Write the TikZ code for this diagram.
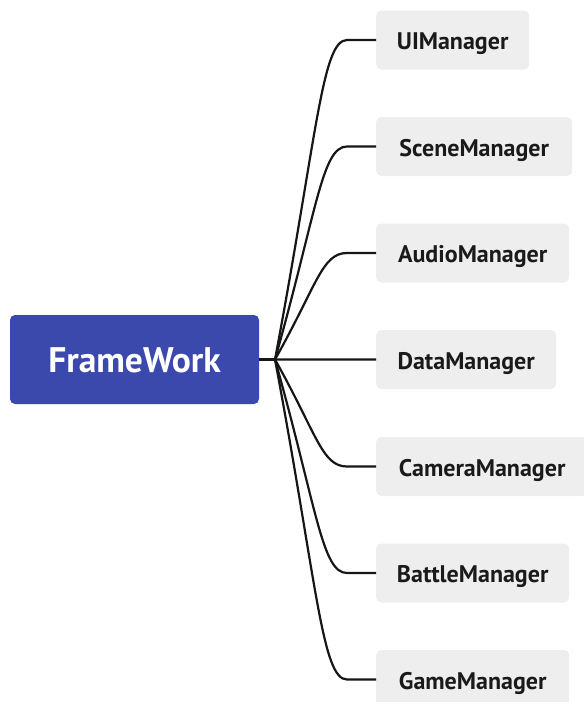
\documentclass[tikz,border=0pt]{standalone}
\usepackage{fontspec}
\setmainfont{PT Sans}
\usetikzlibrary{calc}
\definecolor{rootblue}{RGB}{59,73,172}
\definecolor{leafgray}{RGB}{238,238,238}
\definecolor{linec}{RGB}{22,22,22}
\definecolor{textc}{RGB}{26,26,26}
\begin{document}
\begin{tikzpicture}[x=1pt,y=-1pt,
  rootbox/.style={fill=rootblue, rounded corners=5pt, text=white,
    font=\fontsize{35.5}{40}\selectfont\bfseries,
    minimum width=249pt, minimum height=89pt, inner sep=0pt,
    text height=26.4pt, text depth=0pt},
  leafbox/.style={fill=leafgray, rounded corners=5pt, text=textc,
    font=\fontsize{24}{28}\selectfont\bfseries,
    minimum height=59pt, inner sep=0pt, anchor=west,
    text height=19pt, text depth=0pt},
  conn/.style={draw=linec, line width=2.2pt}]
\useasboundingbox (0,0) rectangle (584,702);
\node[rootbox] (root) at (134.5,359.5) {FrameWork};
\node[leafbox, minimum width=153pt] (ui) at (376,40) {UIManager};
\node[leafbox, minimum width=196pt] (scene) at (376,146.5) {SceneManager};
\node[leafbox, minimum width=193pt] (audio) at (376,253) {AudioManager};
\node[leafbox, minimum width=180pt] (data) at (376,359.5) {DataManager};
\node[leafbox, minimum width=212pt] (camera) at (376,466.5) {CameraManager};
\node[leafbox, minimum width=193pt] (battle) at (376,573) {BattleManager};
\node[leafbox, minimum width=193pt] (game) at (376,679.5) {GameManager};
\coordinate (J) at (275,359.5);
\draw[conn] (root.east) -- (J);
\foreach \n in {ui,scene,audio,data,camera,battle,game}{
  \path (\n.west) -- ++(-29,0) coordinate (E\n);
  \path (\n.west) -- ++(-41,0) coordinate (C\n);
  \path (\n.west) -- ++(-54,0) coordinate (P\n);
  \draw[conn] (J) .. controls ($(J)!0.7!(C\n)$) and (P\n) .. (E\n) -- (\n.west);
}
\end{tikzpicture}
\end{document}
